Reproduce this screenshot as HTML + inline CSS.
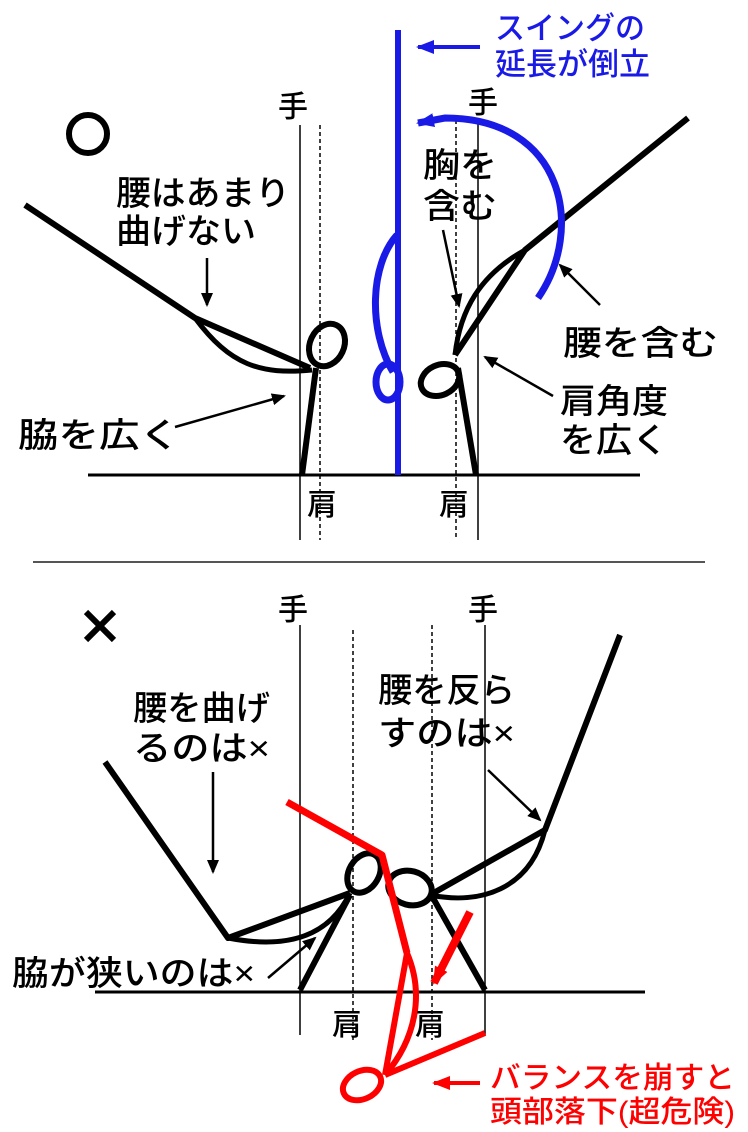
<!DOCTYPE html>
<html><head><meta charset="utf-8"><style>
html,body{margin:0;padding:0;background:#fff}
svg{display:block}
text{font-family:"Liberation Sans","Noto Sans CJK JP",sans-serif;font-weight:500}
</style></head><body>
<svg width="748" height="1132" viewBox="0 0 748 1132" xmlns="http://www.w3.org/2000/svg">
<defs>
<marker id="ab2" markerWidth="14" markerHeight="12" refX="12" refY="6" orient="auto" markerUnits="userSpaceOnUse"><path d="M0,0 L14,6 L0,12 z" fill="#000"/></marker>
<marker id="bb" markerWidth="18" markerHeight="14" refX="16" refY="7" orient="auto" markerUnits="userSpaceOnUse"><path d="M0,0 L18,7 L0,14 z" fill="#1a1ae6"/></marker>
<marker id="rb" markerWidth="18" markerHeight="14" refX="16" refY="7" orient="auto" markerUnits="userSpaceOnUse"><path d="M0,0 L18,7 L0,14 z" fill="#f00"/></marker>
</defs>
<g fill="none" stroke="#000">
<line x1="300" y1="125" x2="300" y2="540" stroke-width="1.5"/>
<line x1="320" y1="125" x2="320" y2="540" stroke-width="1.5" stroke-dasharray="4,3"/>
<line x1="478" y1="120" x2="478" y2="540" stroke-width="1.5"/>
<line x1="456" y1="120" x2="456" y2="540" stroke-width="1.5" stroke-dasharray="4,3"/>
<line x1="88" y1="475" x2="640" y2="475" stroke-width="3"/>
<circle cx="88" cy="134" r="19" stroke-width="6"/>
<path d="M25,205 L195,318 L310,368" stroke-width="6" stroke-linejoin="round"/>
<path d="M195,318 C230,365 260,375 312,370" stroke-width="5"/>
<ellipse cx="327" cy="345" rx="17" ry="22" transform="rotate(25 327 345)" stroke-width="6"/>
<path d="M316,368 L302,475" stroke-width="6"/>
<path d="M688,118 L525,250 L455,355" stroke-width="6" stroke-linejoin="round"/>
<path d="M525,250 C480,275 460,310 455,355" stroke-width="5"/>
<ellipse cx="440" cy="380" rx="20" ry="15" transform="rotate(-25 440 380)" stroke-width="6"/>
<path d="M458,368 L476,475" stroke-width="6"/>
<line x1="207" y1="258" x2="207" y2="305" stroke-width="2.5" marker-end="url(#ab2)"/>
<line x1="175" y1="427" x2="284" y2="396" stroke-width="2.5" marker-end="url(#ab2)"/>
<line x1="443" y1="230" x2="459" y2="306" stroke-width="2.5" marker-end="url(#ab2)"/>
<line x1="600" y1="305" x2="560" y2="265" stroke-width="2.5" marker-end="url(#ab2)"/>
<line x1="553" y1="396" x2="485" y2="357" stroke-width="2.5" marker-end="url(#ab2)"/>
<line x1="33" y1="562" x2="705" y2="562" stroke="#555" stroke-width="2"/>
<line x1="300" y1="625" x2="300" y2="1035" stroke-width="1.5"/>
<line x1="485" y1="625" x2="485" y2="1035" stroke-width="1.5"/>
<line x1="353" y1="630" x2="353" y2="1040" stroke-width="1.5" stroke-dasharray="4,3"/>
<line x1="432" y1="625" x2="432" y2="1040" stroke-width="1.5" stroke-dasharray="4,3"/>
<line x1="95" y1="992" x2="645" y2="992" stroke-width="3"/>
<path d="M86,612 L114,640 M114,612 L86,640" stroke-width="6"/>
<path d="M105,762 L228,938 L350,893" stroke-width="6" stroke-linejoin="round"/>
<path d="M228,938 C290,950 330,935 350,893" stroke-width="5"/>
<ellipse cx="364" cy="873" rx="15" ry="21" transform="rotate(30 364 873)" stroke-width="6"/>
<path d="M350,895 L300,990" stroke-width="6"/>
<ellipse cx="410" cy="888" rx="22" ry="17" transform="rotate(15 410 888)" stroke-width="6"/>
<path d="M430,895 L545,830 L620,635" stroke-width="6" stroke-linejoin="round"/>
<path d="M430,895 C480,905 530,890 545,830" stroke-width="5"/>
<path d="M433,898 L485,990" stroke-width="6"/>
<line x1="213" y1="772" x2="213" y2="872" stroke-width="2.5" marker-end="url(#ab2)"/>
<line x1="488" y1="770" x2="540" y2="820" stroke-width="2.5" marker-end="url(#ab2)"/>
<line x1="268" y1="978" x2="315" y2="938" stroke-width="2.5" marker-end="url(#ab2)"/>
</g>
<g fill="none" stroke="#1a1ae6">
<line x1="398" y1="30" x2="398" y2="475" stroke-width="6"/>
<line x1="480" y1="47" x2="418" y2="47" stroke-width="4" marker-end="url(#bb)"/>
<path d="M397,235 C370,265 368,330 393,372" stroke-width="7"/>
<ellipse cx="388" cy="382" rx="12" ry="18" stroke-width="7"/>
<path d="M538,298 C585,230 565,118 445,118 L418,123" stroke-width="7" marker-end="url(#bb)"/>
</g>
<g fill="none" stroke="#f00">
<path d="M287,802 L382,855 L407,953" stroke-width="7" stroke-linejoin="round"/>
<path d="M407,953 C425,995 415,1040 385,1075" stroke-width="6"/>
<path d="M407,953 L385,1075" stroke-width="6"/>
<path d="M385,1075 L485,1033" stroke-width="6"/>
<ellipse cx="362" cy="1085" rx="20" ry="14" transform="rotate(-25 362 1085)" stroke-width="6"/>
<line x1="470" y1="912" x2="434" y2="983" stroke-width="8" marker-end="url(#rb)"/>
<line x1="480" y1="1083" x2="434" y2="1083" stroke-width="4" marker-end="url(#rb)"/>
</g>
<g font-size="30" fill="#000">
<text x="278" y="117">手</text>
<text x="468" y="113">手</text>
<text x="307" y="515">肩</text>
<text x="439" y="515">肩</text>
<text x="278" y="620">手</text>
<text x="468" y="620">手</text>
<text x="332" y="1035">肩</text>
<text x="415" y="1035">肩</text>
</g>
<g font-size="34" fill="#000">
<text x="116" y="205" textLength="174" lengthAdjust="spacingAndGlyphs">腰はあまり</text>
<text x="116" y="243" textLength="140" lengthAdjust="spacingAndGlyphs">曲げない</text>
<text x="18" y="447" textLength="162" lengthAdjust="spacingAndGlyphs">脇を広く</text>
<text x="423" y="177" textLength="74" lengthAdjust="spacingAndGlyphs">胸を</text>
<text x="423" y="218" textLength="74" lengthAdjust="spacingAndGlyphs">含む</text>
<text x="563" y="355" textLength="155" lengthAdjust="spacingAndGlyphs">腰を含む</text>
<text x="560" y="413" textLength="108" lengthAdjust="spacingAndGlyphs">肩角度</text>
<text x="560" y="452" textLength="108" lengthAdjust="spacingAndGlyphs">を広く</text>
<text x="133" y="720" textLength="137" lengthAdjust="spacingAndGlyphs">腰を曲げ</text>
<text x="133" y="760" textLength="137" lengthAdjust="spacingAndGlyphs">るのは×</text>
<text x="378" y="702" textLength="137" lengthAdjust="spacingAndGlyphs">腰を反ら</text>
<text x="378" y="745" textLength="137" lengthAdjust="spacingAndGlyphs">すのは×</text>
<text x="12" y="985" textLength="243" lengthAdjust="spacingAndGlyphs">脇が狭いのは×</text>
</g>
<g font-size="31" fill="#1a1ae6" font-weight="bold">
<text x="495" y="39" textLength="150" lengthAdjust="spacingAndGlyphs">スイングの</text>
<text x="495" y="75" textLength="155" lengthAdjust="spacingAndGlyphs">延長が倒立</text>
</g>
<g font-size="30" fill="#f00">
<text x="490" y="1088" textLength="245" lengthAdjust="spacingAndGlyphs">バランスを崩すと</text>
<text x="490" y="1122" textLength="245" lengthAdjust="spacingAndGlyphs">頭部落下(超危険)</text>
</g>
</svg>
</body></html>
